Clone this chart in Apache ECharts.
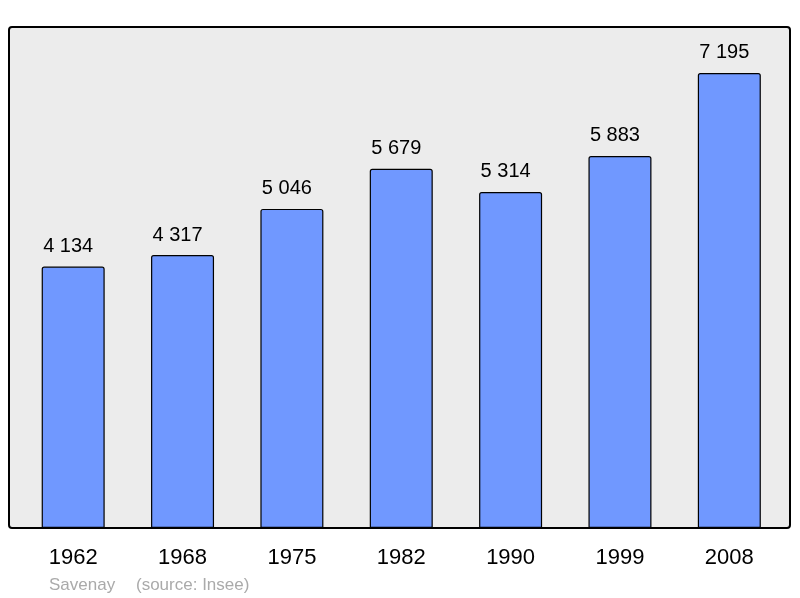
<!DOCTYPE html>
<html>
<head>
<meta charset="utf-8">
<script src="https://cdn.jsdelivr.net/npm/echarts@6/dist/echarts.min.js"></script>
<style>
  html, body { margin: 0; padding: 0; background: #fff; }
  #chart { width: 800px; height: 598px; }
</style>
</head>
<body>
<div id="chart"></div>
<script>
// données population
var years = ["1962", "1968", "1975", "1982", "1990", "1999", "2008"];
var population = [4134, 4317, 5046, 5679, 5314, 5883, 7195];
var townName = "Savenay";
var sourceText = "(source: Insee)";

function fmt(v) {
  return String(v).replace(/\B(?=(\d{3})+(?!\d))/g, " ");
}

var myChart = echarts.init(document.getElementById("chart"));
var option = {
  backgroundColor: "#fff",
  animation: false,
  textStyle: { fontFamily: "Liberation Sans, Arial, sans-serif" },
  graphic: [
    {
      type: "rect",
      z: -10,
      shape: { x: 9, y: 27, width: 781, height: 501, r: 3 },
      style: { fill: "#ececec", stroke: "#000", lineWidth: 2 }
    },
    {
      type: "text",
      left: 49,
      top: 577,
      style: { text: townName, fill: "#aaaaaa", font: "17px Liberation Sans, Arial, sans-serif" }
    },
    {
      type: "text",
      left: 136,
      top: 577,
      style: { text: sourceText, fill: "#aaaaaa", font: "17px Liberation Sans, Arial, sans-serif" }
    }
  ],
  grid: { left: 18.5, right: 16, top: 27, bottom: 70 },
  xAxis: {
    type: "category",
    data: years,
    axisLine: { show: false },
    axisTick: { show: false },
    axisLabel: { color: "#000", fontSize: 22, margin: 19 }
  },
  yAxis: {
    type: "value",
    min: 0,
    max: 7922,
    show: false,
    splitLine: { show: false }
  },
  series: [
    {
      type: "bar",
      data: population,
      barWidth: 63,
      itemStyle: { color: "#7098ff", borderColor: "#000", borderWidth: 1.2, borderRadius: [2, 2, 0, 0] },
      label: {
        show: true,
        position: "top",
        distance: 10,
        offset: [-5, 0],
        color: "#000",
        fontSize: 20,
        formatter: function (p) { return fmt(p.value); }
      }
    }
  ]
};
myChart.setOption(option);
</script>
</body>
</html>
